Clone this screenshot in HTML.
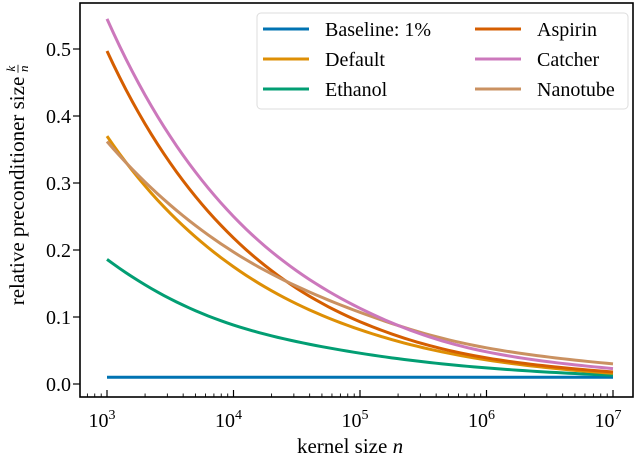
<!DOCTYPE html>
<html><head><meta charset="utf-8"><style>
body{margin:0;background:#fff}
svg{display:block;font-family:"Liberation Serif",serif}
</style></head><body>
<svg width="640" height="457" viewBox="0 0 640 457" id="chart">
</svg>
<script>
const categories=[1e3,1e4,1e5,1e6,1e7];
const baselineValues=[0.01,0.01,0.01,0.01,0.01];
const defaultValues=[0.37,0.175,0.081,0.036,0.016];
const ethanolValues=[0.186,0.088,0.046,0.024,0.013];
const aspirinValues=[0.497,0.218,0.093,0.039,0.018];
const catcherValues=[0.545,0.25,0.113,0.048,0.023];
const nanotubeValues=[0.362,0.197,0.107,0.054,0.03];
const seriesNames=["Baseline: 1%","Default","Ethanol","Aspirin","Catcher","Nanotube"];
const seriesColors=["#0173b2","#de8f05","#029e73","#d55e00","#cc78bc","#ca9161"];
const yTicks=[0,0.1,0.2,0.3,0.4,0.5];
const yTickLabels=["0.0","0.1","0.2","0.3","0.4","0.5"];
const xTicks=[3,4,5,6,7];

const svg=document.getElementById('chart');
const NS="http://www.w3.org/2000/svg";
const L=80,R=633,T=3,B=397;
const xs=e=>107+(e-3)*126.5;
const x=v=>xs(Math.log10(v));
const y=v=>384-v*670;
function mk(tag,attrs,parent){const e=document.createElementNS(NS,tag);for(const k in attrs)e.setAttribute(k,attrs[k]);(parent||svg).appendChild(e);return e;}

const allSeries=[baselineValues,defaultValues,ethanolValues,aspirinValues,catcherValues,nanotubeValues];
const order=[0,2,1,3,5,4];
const lines=mk('g',{});


order.forEach(i=>{
  const vals=allSeries[i];
  const lx=categories.map(c=>Math.log10(c));
  const ly=vals.map(v=>Math.log(v));
  const n=lx.length;
  const d=[];
  for(let j=0;j<n-1;j++){
    const p0=ly[Math.max(0,j-1)],p1=ly[j],p2=ly[j+1],p3=ly[Math.min(n-1,j+2)];
    const m1=j===0?(p2-p1):(p2-p0)/2;
    const m2=j+2>n-1?(p2-p1):(p3-p1)/2;
    for(let s=0;s<=20;s++){
      if(j>0&&s===0)continue;
      const t=s/20,t2=t*t,t3=t2*t;
      const v=(2*t3-3*t2+1)*p1+(t3-2*t2+t)*m1+(-2*t3+3*t2)*p2+(t3-t2)*m2;
      const ex=lx[j]+t*(lx[j+1]-lx[j]);
      d.push((d.length?'L':'M')+xs(ex).toFixed(2)+','+y(Math.exp(v)).toFixed(2));
    }
  }
  const p=mk('path',{d:d.join(' '),fill:'none',stroke:seriesColors[i],'stroke-width':3,'stroke-linejoin':'round'},lines);
  
  
});

const fr=mk('rect',{x:L,y:T,width:R-L,height:B-T,fill:'none',stroke:'#000','stroke-width':1.6});



yTicks.forEach((v,i)=>{
  mk('line',{x1:L-7,x2:L,y1:y(v),y2:y(v),stroke:'#000','stroke-width':1.2});
  const t=mk('text',{x:L-9,y:y(v)+7,'text-anchor':'end','font-size':20});
  t.textContent=yTickLabels[i];
  
  
});
for(let e=2;e<=7;e++){
  for(let m=1;m<10;m++){
    const px=xs(e+Math.log10(m));
    if(px<L||px>R)continue;
    const len=m===1?7:3.5;
    mk('line',{x1:px,x2:px,y1:B,y2:B-len,stroke:'#000','stroke-width':m===1?1.2:0.9});
  }
}
xTicks.forEach(e=>{
  const t=mk('text',{x:xs(e)-5,y:427,'text-anchor':'middle','font-size':20});
  t.textContent='10';
  const s=mk('tspan',{dy:-8,'font-size':14},t);
  s.textContent=String(e);
  
  
});
const xt=mk('text',{x:350,y:453,'text-anchor':'middle','font-size':21});
xt.innerHTML='kernel size <tspan font-style="italic">n</tspan>';


const yg=mk('g',{transform:'translate(24,184) rotate(-90)'});


const yt=mk('text',{x:0,y:0,'font-size':21},yg);
yt.textContent='relative preconditioner size';
let len=280;
try{len=yt.getComputedTextLength()||280;}catch(e){}
const start=-(len+14)/2;
yt.setAttribute('x',start);
const fx=start+len+8;
const fk=mk('text',{x:fx,y:-9,'text-anchor':'middle','font-size':13,'font-style':'italic'},yg);
fk.textContent='k';
mk('line',{x1:fx-4,x2:fx+4,y1:-6,y2:-6,stroke:'#000','stroke-width':0.8},yg);
const fn=mk('text',{x:fx,y:4,'text-anchor':'middle','font-size':13,'font-style':'italic'},yg);
fn.textContent='n';

const lg=mk('g',{});


mk('rect',{x:257,y:13,width:371,height:96,rx:4,fill:'#fff',stroke:'#ddd','stroke-width':1},lg);
seriesNames.forEach((n,i)=>{
  const col=Math.floor(i/3),row=i%3;
  const lx=col?475:263, ly=29+row*30;
  const g=mk('g',{},lg);
  
  
  mk('line',{x1:lx,x2:lx+46,y1:ly,y2:ly,stroke:seriesColors[i],'stroke-width':3},g);
  const t=mk('text',{x:lx+62,y:ly+7,'font-size':20},g);
  t.textContent=n;
});
</script>
</body></html>
